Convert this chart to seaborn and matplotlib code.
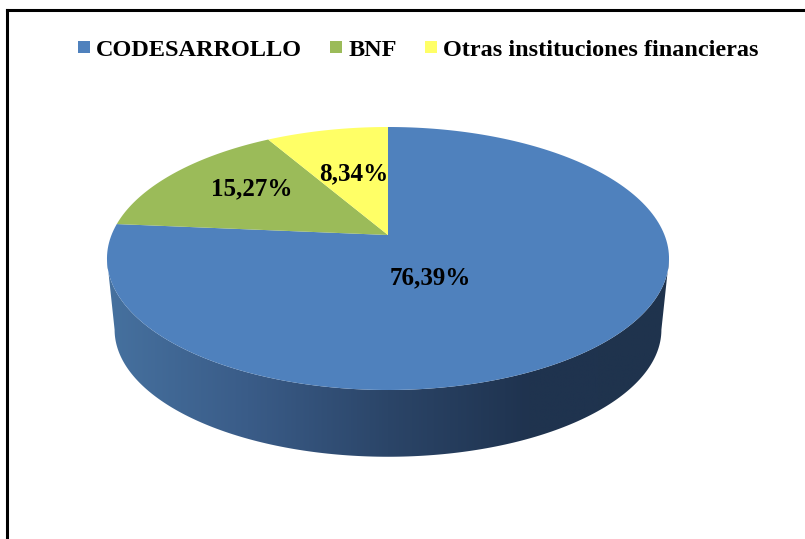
# Import Libraries
import numpy as np
import matplotlib
matplotlib.use('Agg')
import matplotlib.pyplot as plt
from matplotlib.colors import LinearSegmentedColormap
from matplotlib.patches import Patch, Polygon
import seaborn as sns

categories = ['CODESARROLLO', 'BNF', 'Otras instituciones financieras']
shares = [76.39, 15.27, 8.34]
share_labels = ['76,39%', '15,27%', '8,34%']
colors = ['#4F81BD', '#9BBB59', '#FFFF66']
side_colors = ['#46719F', '#3A5C88', '#2B4568', '#1F334F', '#1F334D']

# Visualization display
sns.set_style('white')
plt.rcParams['font.family'] = ['Liberation Serif', 'DejaVu Serif']
plt.rcParams['font.weight'] = 'bold'
plt.rcParams['font.size'] = 17.5


def tilt(angle, cx=388, cy=235, rx=276.5, ry=127.3, c=0.1787):
    '''
    Projects an angle of the pie (degrees clockwise from the top) to the tilted disc.
    '''
    a = np.radians(angle)
    u, v = np.sin(a), np.cos(a)
    return cx + rx * u / (1 + c * v), cy - ry * v / (1 + c * v)


fig = plt.figure(figsize=(8.05, 5.39), dpi=100)
ax = fig.add_axes([7 / 805, 0, 798 / 805, 529 / 539])
ax.set_xlim(7, 805)
ax.set_ylim(539, 10)
sns.despine(ax=ax, top=False, right=True, left=False, bottom=True)
ax.spines['left'].set_linewidth(2.2)
ax.spines['top'].set_linewidth(2.2)
ax.spines['left'].set_color('black')
ax.spines['top'].set_color('black')
ax.set_xticks([])
ax.set_yticks([])

# Side of the disc, runs between the widest points of the top and the bottom ellipse
front = np.linspace(100.3, 259.7, 181)
tx, ty = tilt(front)
bx, by = tilt(front, cx=388, cy=307, rx=269, ry=123, c=0.1787)
side = Polygon(np.r_[np.c_[tx, ty], np.c_[bx, by][::-1]], closed=True, transform=ax.transData,
               facecolor='none', edgecolor='none')
ax.add_patch(side)
cmap = LinearSegmentedColormap.from_list('side', side_colors[::-1])
img = ax.imshow(np.linspace(0, 1, 256)[None, :][:, ::-1], cmap=cmap, aspect='auto',
                extent=(107, 669, 470, 240), zorder=1)
img.set_clip_path(side)
ax.set_xlim(7, 805)
ax.set_ylim(539, 10)

# Top of the disc
edges = np.r_[0, np.cumsum(shares)] / sum(shares) * 360
for i in range(len(shares)):
    arc = np.linspace(edges[i], edges[i + 1], 200)
    px, py = tilt(arc)
    ax.fill(np.r_[388, px], np.r_[235, py], color=colors[i], lw=0, zorder=2)

# Data labels
label_x = [430, 252, 354]
label_y = [278, 189, 174]
for i in range(len(shares)):
    ax.text(label_x[i], label_y[i], share_labels[i], ha='center', va='center', color='black',
            fontsize=18, zorder=3)

handles = [Patch(facecolor=colors[i], edgecolor='none', label=categories[i]) for i in range(len(shares))]
ax.legend(handles=handles, ncol=3, frameon=False, loc='center', bbox_to_anchor=(418, 50.5),
          bbox_transform=ax.transData, handlelength=0.5, handleheight=0.38, labelcolor='black',
          handletextpad=0.25, columnspacing=1.15, borderpad=0, borderaxespad=0)

fig.savefig('out.png', dpi=100)
